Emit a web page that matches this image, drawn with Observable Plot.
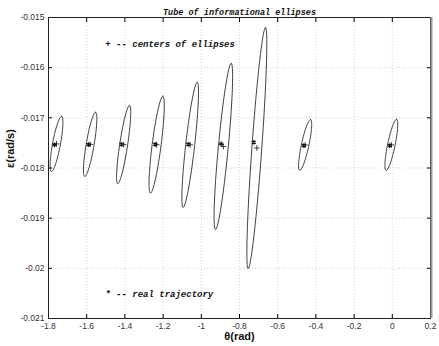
<!DOCTYPE html>
<html>
<head>
<meta charset="utf-8">
<script src="https://cdn.jsdelivr.net/npm/d3@7"></script>
<script src="https://cdn.jsdelivr.net/npm/@observablehq/plot@0.6"></script>
<style>
  html, body { margin: 0; padding: 0; background: #fff; }
</style>
</head>
<body>
<div id="chart"></div>
<script>
// ---- data ----
// ellipse centres (theta in rad, epsilon in rad/s)
const centerTheta = [-1.7581, -1.5819, -1.4065, -1.2338, -1.0581, -0.8846, -0.7092, -0.4563, -0.0049];
const centerEps   = [-0.017520, -0.017530, -0.017535, -0.017536, -0.017539, -0.017572, -0.017602, -0.017542, -0.017539];
// major semi-axis (centre -> top point)
const majorTheta  = [0.0262, 0.0280, 0.0306, 0.0322, 0.0366, 0.0411, 0.0453, 0.0280, 0.0270];
const majorEps    = [0.000550, 0.000640, 0.000779, 0.000965, 0.001246, 0.001657, 0.002403, 0.000507, 0.000510];
// horizontal half-width through the centre
const halfWidth   = [0.021, 0.021, 0.021, 0.0236, 0.0236, 0.026, 0.026, 0.020, 0.020];
// real trajectory points
const trajTheta   = [-1.7686, -1.5906, -1.4178, -1.2414, -1.0686, -0.8958, -0.7251, -0.4634, -0.0131];
const trajEps     = [-0.017538, -0.017532, -0.017527, -0.017527, -0.017527, -0.017519, -0.017487, -0.017552, -0.017552];
// ticks
const xTicks = [-1.8, -1.6, -1.4, -1.2, -1, -0.8, -0.6, -0.4, -0.2, 0, 0.2];
const yTicks = [-0.021, -0.02, -0.019, -0.018, -0.017, -0.016, -0.015];
const xTickLabels = ["-1.8", "-1.6", "-1.4", "-1.2", "-1", "-0.8", "-0.6", "-0.4", "-0.2", "0", "0.2"];
const yTickLabels = ["-0.021", "-0.02", "-0.019", "-0.018", "-0.017", "-0.016", "-0.015"];
const titleText = "Tube of informational ellipses";
const legendCenters = "+ -- centers of ellipses";
const legendTraj = "* -- real trajectory";

// ---- build ellipse outlines from the parameters ----
const ellipsePts = [];
const N = 72;
centerTheta.forEach((c, i) => {
  for (let k = 0; k <= N; k++) {
    const t = (2 * Math.PI * k) / N;
    ellipsePts.push({
      id: i,
      theta: c + Math.cos(t) * majorTheta[i] + Math.sin(t) * halfWidth[i],
      eps: centerEps[i] + Math.cos(t) * majorEps[i]
    });
  }
});
const centers = centerTheta.map((c, i) => ({theta: c, eps: centerEps[i]}));
const traj = trajTheta.map((c, i) => ({theta: c, eps: trajEps[i]}));

const xFmt = d => xTickLabels[xTicks.indexOf(d)];
const yFmt = d => yTickLabels[yTicks.indexOf(d)];
const tickFont = "Liberation Sans, Arial, sans-serif";
const monoFont = "Liberation Mono, Courier New, monospace";

const chart = Plot.plot({
  width: 439,
  height: 346,
  marginLeft: 48,
  marginRight: 9,
  marginTop: 17,
  marginBottom: 28,
  style: {background: "#fff", fontFamily: tickFont},
  x: {domain: [-1.8, 0.2], ticks: xTicks},
  y: {domain: [-0.021, -0.015], ticks: yTicks},
  marks: [
    Plot.gridX(xTicks, {stroke: "#bbb", strokeOpacity: 0.6, strokeDasharray: "1,2"}),
    Plot.gridY(yTicks, {stroke: "#bbb", strokeOpacity: 0.6, strokeDasharray: "1,2"}),
    Plot.axisX(xTicks, {tickSize: -4, tickPadding: 8, tickFormat: xFmt, fontSize: 8.5, fill: "#333", label: null}),
    Plot.axisX(xTicks, {anchor: "top", tickSize: -4, tickFormat: () => "", label: null}),
    Plot.axisY(yTicks, {tickSize: -4, tickPadding: 8, tickFormat: yFmt, fontSize: 8.5, fill: "#333", label: null}),
    Plot.axisY(yTicks, {anchor: "right", tickSize: -4, tickFormat: () => "", label: null}),
    Plot.frame({stroke: "#222"}),
    Plot.ruleX([0.2], {stroke: "#999", strokeWidth: 2, dx: 1}),
    Plot.line(ellipsePts, {x: "theta", y: "eps", z: "id", stroke: "#111", strokeWidth: 0.8}),
    Plot.dot(traj, {x: "theta", y: "eps", symbol: "asterisk", r: 2.2, stroke: "#111", strokeWidth: 1.2}),
    Plot.dot(centers, {x: "theta", y: "eps", symbol: "plus", r: 2, stroke: "#111", strokeWidth: 0.8}),
    Plot.text([legendCenters], {x: -1.503, y: -0.01554, text: d => d, textAnchor: "start",
      fontFamily: monoFont, fontStyle: "italic", fontWeight: "bold", fontSize: 9, fill: "#111"}),
    Plot.text([legendTraj], {x: -1.503, y: -0.02052, text: d => d, textAnchor: "start",
      fontFamily: monoFont, fontStyle: "italic", fontWeight: "bold", fontSize: 9, fill: "#111"}),
    Plot.text([titleText], {frameAnchor: "top", dy: -9, dx: 0, text: d => d,
      fontFamily: monoFont, fontStyle: "italic", fontWeight: "bold", fontSize: 8.5, fill: "#111"}),
    Plot.text(["θ(rad)"], {frameAnchor: "bottom", dy: 21, text: d => d,
      fontFamily: tickFont, fontWeight: "bold", fontSize: 11, fill: "#111"}),
    Plot.text(["ε(rad/s)"], {frameAnchor: "left", dx: -38, rotate: -90, text: d => d,
      fontFamily: tickFont, fontWeight: "bold", fontSize: 11, fill: "#111"})
  ]
});
document.getElementById("chart").appendChild(chart);
</script>
</body>
</html>
